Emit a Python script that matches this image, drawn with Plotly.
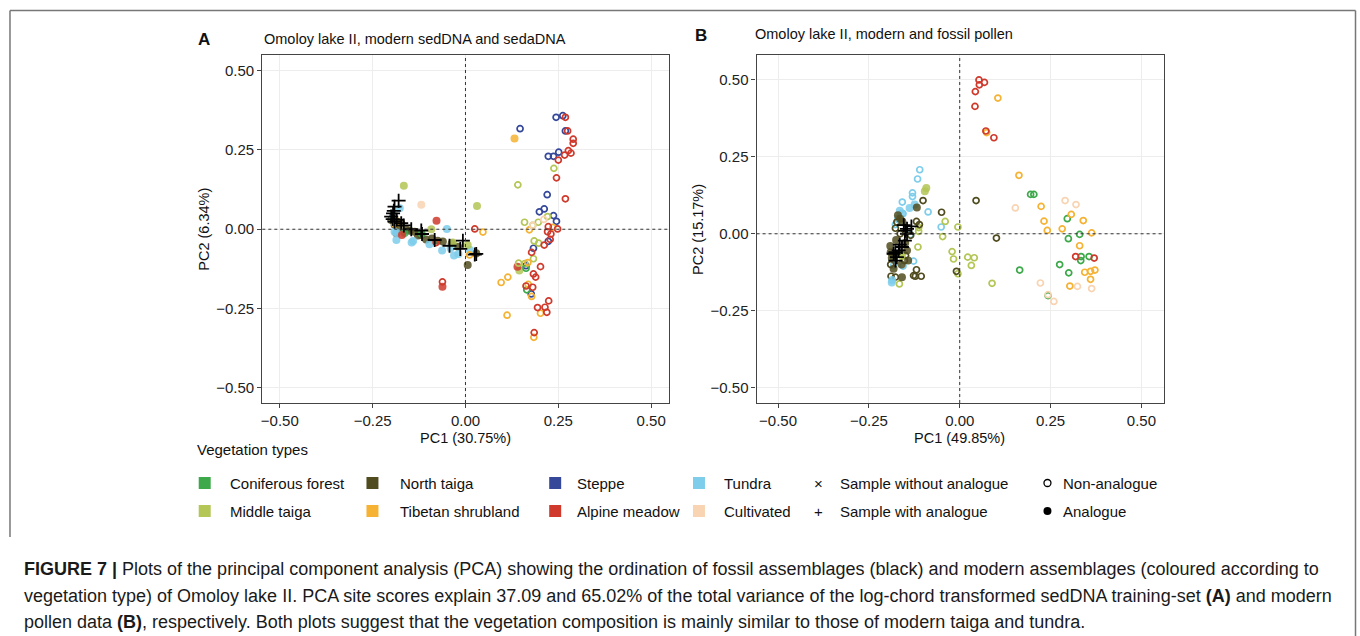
import plotly.graph_objects as go

W, H = 1360, 636

# ---------------- colours ----------------
COL_CONIF = "#3DA94B"
COL_MIDT = "#B3C656"
COL_NT = "#514C20"
COL_STEP = "#35489A"
COL_TUND = "#7DCDEB"
COL_TIB = "#F5B233"
COL_ALP = "#CF3A2C"
COL_CULT = "#F8D4B3"

# ---------------- Panel A data (sedDNA) ----------------
A_CONIF_NON = [(0.163, -0.123), (0.165, -0.191)]
A_CONIF_ANA = [(-0.164, -0.012), (-0.118, -0.014)]
A_MIDT_NON = [(0.238, 0.192), (0.141, 0.140), (0.159, 0.022), (0.181, 0.012), (0.196, 0.022),
              (0.221, 0.040), (0.185, -0.037), (0.197, -0.044), (0.183, -0.093), (0.143, -0.107),
              (0.160, -0.108)]
A_MIDT_ANA = [(-0.166, 0.137), (0.031, 0.073), (-0.092, 0.0), (-0.034, -0.042), (0.006, -0.050),
              (0.145, -0.130)]
A_NT_ANA = [(-0.200, 0.029), (-0.191, 0.014), (-0.173, 0.019), (-0.159, -0.002), (-0.137, -0.008),
            (-0.119, -0.018), (-0.106, -0.032), (-0.090, -0.029), (-0.061, -0.039), (-0.037, -0.044),
            (-0.186, -0.013), (0.006, -0.113), (0.029, -0.076), (-0.195, 0.040), (-0.180, 0.005),
            (-0.150, -0.005), (-0.128, -0.020), (-0.075, -0.036), (-0.020, -0.055)]
A_STEP_NON = [(0.147, 0.317), (0.244, 0.353), (0.262, 0.358), (0.269, 0.310), (0.223, 0.230),
              (0.237, 0.230), (0.251, 0.243), (0.220, 0.109), (0.199, 0.055), (0.212, 0.064),
              (0.237, 0.043), (0.245, 0.025), (0.223, -0.038), (0.183, -0.060), (0.177, -0.204),
              (0.163, -0.115)]
A_TUND_ANA = [(-0.177, 0.066), (-0.141, -0.037), (-0.145, -0.042), (-0.097, -0.047), (-0.063, -0.067),
              (-0.050, 0.001), (-0.031, -0.083), (-0.019, -0.078), (0.011, -0.065), (-0.191, -0.008),
              (-0.186, -0.034), (-0.186, -0.011), (-0.196, 0.035), (-0.040, -0.060)]
A_TIB_NON = [(0.047, -0.009), (0.011, -0.081), (0.096, -0.168), (0.114, -0.151), (0.112, -0.271),
             (0.172, -0.002), (0.235, 0.006), (0.169, -0.174), (0.178, -0.212), (0.202, -0.265),
             (0.184, -0.341), (0.168, -0.105)]
A_TIB_ANA = [(0.132, 0.286), (-0.190, 0.017), (-0.185, 0.025)]
A_ALP_NON = [(0.269, 0.353), (0.275, 0.310), (0.290, 0.284), (0.290, 0.271), (0.277, 0.248),
             (0.267, 0.234), (0.284, 0.240), (0.250, 0.218), (0.245, 0.162), (0.269, 0.096),
             (0.223, 0.008), (0.248, 0.001), (0.221, -0.008), (0.230, -0.015), (0.228, -0.032),
             (0.212, -0.050), (0.178, -0.073), (0.202, -0.118), (0.183, -0.141), (0.189, -0.151),
             (0.163, -0.179), (0.181, -0.183), (0.224, -0.226), (0.194, -0.247), (0.214, -0.246),
             (0.219, -0.262), (0.185, -0.326), (0.025, 0.001), (-0.062, -0.166), (-0.079, -0.042)]
A_ALP_ANA = [(-0.078, 0.027), (-0.062, -0.181), (-0.171, -0.018), (0.140, -0.118)]
A_CULT_NON = [(0.211, 0.031), (0.181, 0.012)]
A_CULT_ANA = [(-0.119, 0.077)]
A_FOSSIL_WITH = [(-0.180, 0.090), (-0.191, 0.071), (-0.193, 0.058), (-0.195, 0.050), (-0.200, 0.040),
                 (-0.196, 0.032), (-0.191, 0.024), (-0.185, 0.030), (-0.173, 0.019), (-0.166, 0.012),
                 (-0.146, 0.000), (-0.119, -0.004), (-0.117, -0.015), (-0.083, -0.034), (-0.043, -0.052),
                 (-0.014, -0.062), (-0.007, -0.036), (0.029, -0.078), (0.025, -0.080)]

# ---------------- Panel B data (pollen) ----------------
B_CONIF_NON = [(0.195, 0.128), (0.204, 0.128), (0.296, 0.049), (0.330, -0.002), (0.299, -0.016),
               (0.334, -0.074), (0.333, -0.087), (0.356, -0.074), (0.275, -0.100), (0.300, -0.127),
               (0.165, -0.118), (0.243, -0.201)]
B_MIDT_NON = [(-0.040, 0.040), (-0.047, -0.009), (-0.005, 0.022), (-0.021, -0.058), (-0.017, -0.082),
              (0.022, -0.076), (0.040, -0.078), (0.032, -0.103), (-0.005, -0.130), (0.089, -0.161),
              (-0.113, 0.008), (-0.115, -0.043), (-0.166, -0.163), (-0.113, 0.020)]
B_MIDT_ANA = [(-0.092, 0.149), (-0.096, 0.138), (-0.159, -0.073), (-0.163, -0.066)]
B_NT_NON = [(0.101, -0.014), (0.045, 0.108), (-0.009, -0.122), (-0.101, 0.108), (-0.050, 0.070),
            (-0.119, 0.040), (-0.111, 0.030), (-0.119, -0.117), (-0.122, -0.138), (-0.106, -0.138),
            (-0.173, 0.038), (-0.189, -0.138), (-0.177, -0.141), (-0.182, -0.078), (-0.164, 0.000),
            (-0.177, 0.018), (-0.149, -0.071), (-0.152, -0.087), (-0.127, -0.136), (-0.190, -0.100),
            (-0.135, -0.005)]
B_NT_ANA = [(-0.118, 0.085), (-0.159, -0.141), (-0.164, 0.049), (-0.191, -0.040), (-0.187, -0.078),
            (-0.145, -0.054), (-0.142, -0.087), (-0.182, -0.114), (-0.170, 0.060), (-0.158, 0.040),
            (-0.175, -0.020), (-0.160, -0.100), (-0.190, -0.060), (-0.150, -0.030)]
B_TUND_NON = [(-0.110, 0.208), (-0.116, 0.178), (-0.130, 0.133), (-0.130, 0.121), (-0.158, 0.103),
              (-0.087, 0.071), (-0.051, 0.022), (-0.177, 0.030), (-0.156, 0.065), (-0.136, -0.003),
              (-0.127, -0.089), (-0.156, -0.105), (-0.182, -0.103), (-0.170, 0.050)]
B_TUND_ANA = [(-0.138, 0.084), (-0.124, 0.095), (-0.159, 0.067), (-0.187, -0.158), (-0.186, -0.150),
              (-0.165, 0.075)]
B_TIB_NON = [(0.105, 0.441), (0.074, 0.329), (0.163, 0.190), (0.224, 0.089), (0.232, 0.041),
             (0.241, 0.011), (0.282, 0.016), (0.307, 0.063), (0.340, 0.043), (0.363, 0.003),
             (0.330, -0.039), (0.344, -0.125), (0.360, -0.122), (0.372, -0.118), (0.360, -0.148),
             (0.303, -0.170)]
B_ALP_NON = [(0.053, 0.500), (0.068, 0.492), (0.054, 0.484), (0.043, 0.462), (0.042, 0.414),
             (0.072, 0.334), (0.094, 0.312), (0.319, -0.074), (0.370, -0.079)]
B_CULT_NON = [(0.153, 0.084), (0.290, 0.108), (0.320, 0.095), (0.222, -0.160), (0.324, -0.171),
              (0.363, -0.178), (0.259, -0.220), (0.243, -0.198)]
B_FOSSIL_WITH = [(-0.154, 0.028), (-0.133, 0.024), (-0.145, 0.000), (-0.151, -0.022), (-0.159, -0.043),
                 (-0.168, -0.054), (-0.177, -0.060), (-0.173, -0.076), (-0.182, -0.065), (-0.177, -0.087),
                 (-0.145, 0.016), (-0.150, 0.010), (-0.165, -0.035)]

TICKS = [-0.5, -0.25, 0.0, 0.25, 0.5]
TICK_LABELS = ["\u22120.50", "\u22120.25", "0.00", "0.25", "0.50"]

LEGEND_TYPES = [["Coniferous forest", "North taiga", "Steppe", "Tundra"],
                ["Middle taiga", "Tibetan shrubland", "Alpine meadow", "Cultivated"]]
LEGEND_COLORS = [[COL_CONIF, COL_NT, COL_STEP, COL_TUND],
                 [COL_MIDT, COL_TIB, COL_ALP, COL_CULT]]

FONT = "Liberation Sans, Arial, Helvetica, sans-serif"

fig = go.Figure()


def add_pts(pts, color, filled, xa, ya):
    if not pts:
        return
    xs = [p[0] for p in pts]
    ys = [p[1] for p in pts]
    if filled:
        marker = dict(size=8, color=color, opacity=0.85, line=dict(width=0))
    else:
        marker = dict(size=6, color="rgba(255,255,255,0)", line=dict(width=1.7, color=color))
    fig.add_trace(go.Scatter(x=xs, y=ys, mode="markers", marker=marker, xaxis=xa, yaxis=ya,
                             showlegend=False, hoverinfo="x+y"))


def add_fossil(pts, xa, ya):
    fig.add_trace(go.Scatter(x=[p[0] for p in pts], y=[p[1] for p in pts], mode="markers",
                             marker=dict(symbol="cross-thin", size=10, color="black",
                                         line=dict(width=1.8, color="black")),
                             xaxis=xa, yaxis=ya, showlegend=False))


# panel A
for pts, c, f in [(A_NT_ANA, COL_NT, True), (A_TUND_ANA, COL_TUND, True), (A_MIDT_ANA, COL_MIDT, True),
                  (A_CONIF_ANA, COL_CONIF, True), (A_TIB_ANA, COL_TIB, True), (A_ALP_ANA, COL_ALP, True),
                  (A_CULT_ANA, COL_CULT, True),
                  (A_STEP_NON, COL_STEP, False), (A_MIDT_NON, COL_MIDT, False), (A_CONIF_NON, COL_CONIF, False),
                  (A_TIB_NON, COL_TIB, False), (A_CULT_NON, COL_CULT, False), (A_ALP_NON, COL_ALP, False)]:
    add_pts(pts, c, f, "x", "y")
add_fossil(A_FOSSIL_WITH, "x", "y")

# panel B
for pts, c, f in [(B_TUND_NON, COL_TUND, False), (B_MIDT_NON, COL_MIDT, False), (B_NT_NON, COL_NT, False),
                  (B_TUND_ANA, COL_TUND, True), (B_MIDT_ANA, COL_MIDT, True), (B_NT_ANA, COL_NT, True),
                  (B_CONIF_NON, COL_CONIF, False), (B_CULT_NON, COL_CULT, False), (B_TIB_NON, COL_TIB, False),
                  (B_ALP_NON, COL_ALP, False)]:
    add_pts(pts, c, f, "x2", "y2")
add_fossil(B_FOSSIL_WITH, "x2", "y2")


def px(v):
    return v / W


def py(v):
    return 1 - v / H


axis_common = dict(showline=True, mirror=True, linecolor="#444", linewidth=1.2, ticks="outside",
                   ticklen=4, tickcolor="#444", tickwidth=1, showgrid=True, gridcolor="#ededed",
                   gridwidth=1, zeroline=False, tickvals=TICKS, ticktext=TICK_LABELS,
                   tickfont=dict(family=FONT, size=15, color="#222"))

fig.update_layout(
    width=W, height=H, margin=dict(l=0, r=0, t=0, b=0), paper_bgcolor="white", plot_bgcolor="white",
    xaxis=dict(domain=[px(260.7), px(668)], range=[-0.547, 0.548], anchor="y", **axis_common),
    yaxis=dict(domain=[py(403), py(55)], range=[-0.548, 0.5495], anchor="x", **axis_common),
    xaxis2=dict(domain=[px(755.7), px(1163.3)], range=[-0.559, 0.561], anchor="y2", **axis_common),
    yaxis2=dict(domain=[py(403), py(55)], range=[-0.55, 0.581], anchor="x2", **axis_common),
)

shapes = []
for xr, yr in [("x", "y"), ("x2", "y2")]:
    shapes.append(dict(type="line", xref=xr, yref=yr + " domain", x0=0, x1=0, y0=0, y1=1,
                       line=dict(color="#333", width=1, dash="dot"), layer="above"))
    shapes.append(dict(type="line", xref=xr + " domain", yref=yr, x0=0, x1=1, y0=0, y1=0,
                       line=dict(color="#333", width=1, dash="dot"), layer="above"))

# frame
shapes.append(dict(type="line", xref="paper", yref="paper", x0=px(8), x1=px(1355.5), y0=py(10.5), y1=py(10.5),
                   line=dict(color="#777", width=1.5)))
shapes.append(dict(type="line", xref="paper", yref="paper", x0=px(8), x1=px(8), y0=py(10.5), y1=py(537),
                   line=dict(color="#777", width=1.5)))
shapes.append(dict(type="line", xref="paper", yref="paper", x0=px(1355.5), x1=px(1355.5), y0=py(10.5), y1=py(636),
                   line=dict(color="#777", width=1.5)))

annotations = []


def ann(text, x, y, size, xanchor="left", yanchor="middle", bold=False, angle=0, color="#111"):
    t = "<b>%s</b>" % text if bold else text
    annotations.append(dict(text=t, x=px(x), y=py(y), xref="paper", yref="paper", showarrow=False,
                            xanchor=xanchor, yanchor=yanchor, textangle=angle,
                            font=dict(family=FONT, size=size, color=color)))


# panel labels and titles
ann("A", 194, 39, 17, bold=True)
ann("Omoloy lake II, modern sedDNA and sedaDNA", 260, 39, 14.5)
ann("B", 692, 36, 17, bold=True)
ann("Omoloy lake II, modern and fossil pollen", 752, 34, 14.5)
ann("PC1 (30.75%)", 464.3, 438, 14.5, xanchor="center")
ann("PC1 (49.85%)", 959.3, 438, 14.5, xanchor="center")
ann("PC2 (6.34%)", 202, 229, 14.5, xanchor="center", angle=-90)
ann("PC2 (15.17%)", 697, 229, 14.5, xanchor="center", angle=-90)

# legend
ann("Vegetation types", 193, 450, 15)
sq_x = [197, 365, 548, 692]
tx_x = [226, 397, 574, 721]
rows_y = [483, 511]
for r in range(2):
    for c in range(4):
        shapes.append(dict(type="rect", xref="paper", yref="paper", x0=px(sq_x[c]), x1=px(sq_x[c] + 12),
                           y0=py(rows_y[r] + 6), y1=py(rows_y[r] - 6), fillcolor=LEGEND_COLORS[r][c],
                           line=dict(width=0)))
        ann(LEGEND_TYPES[r][c], tx_x[c], rows_y[r], 15)
ann("\u00d7", 818, rows_y[0], 15, xanchor="center")
ann("Sample without analogue", 837, rows_y[0], 15)
ann("+", 818, rows_y[1], 15, xanchor="center")
ann("Sample with analogue", 837, rows_y[1], 15)
shapes.append(dict(type="circle", xref="paper", yref="paper", x0=px(1043.5), x1=px(1050.5),
                   y0=py(rows_y[0] + 3.5), y1=py(rows_y[0] - 3.5), line=dict(color="black", width=1.3)))
shapes.append(dict(type="circle", xref="paper", yref="paper", x0=px(1043), x1=px(1051),
                   y0=py(rows_y[1] + 4), y1=py(rows_y[1] - 4), fillcolor="black", line=dict(color="black", width=0)))
ann("Non-analogue", 1061, rows_y[0], 15)
ann("Analogue", 1061, rows_y[1], 15)

# caption
cap1 = ("<b>FIGURE 7 |</b> Plots of the principal component analysis (PCA) showing the ordination of fossil "
        "assemblages (black) and modern assemblages (coloured according to")
cap2 = ("vegetation type) of Omoloy lake II. PCA site scores explain 37.09 and 65.02% of the total variance of "
        "the log-chord transformed sedDNA training-set <b>(A)</b> and modern")
cap3 = ("pollen data <b>(B)</b>, respectively. Both plots suggest that the vegetation composition is mainly "
        "similar to those of modern taiga and tundra.")
for i, t in enumerate([cap1, cap2, cap3]):
    ann(t, 20, 569 + i * 26.5, 18, color="#1a1a1a")

fig.update_layout(shapes=shapes, annotations=annotations)
fig.write_html("out.html")
